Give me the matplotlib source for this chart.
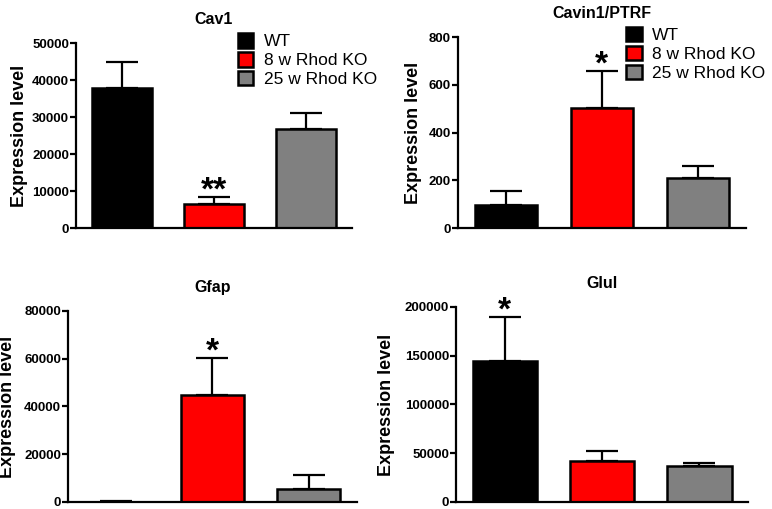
import matplotlib.pyplot as plt

plt.rcParams["font.family"] = ["Liberation Sans", "DejaVu Sans"]

groups = ["WT", "8 w Rhod KO", "25 w Rhod KO"]
colors = ["#000000", "#ff0000", "#808080"]

cav1_mean = [37800, 6500, 26700]
cav1_sem = [7100, 2000, 4400]

cavin1_mean = [98, 503, 211]
cavin1_sem = [56, 157, 50]

gfap_mean = [150, 45000, 5400]
gfap_sem = [250, 15500, 6000]

glul_mean = [145000, 42300, 37100]
glul_sem = [44500, 10200, 2800]

# significance marks above each bar
cav1_sig = ["", "**", ""]
cavin1_sig = ["", "*", ""]
gfap_sig = ["", "*", ""]
glul_sig = ["*", "", ""]

fig = plt.figure(figsize=(7.72, 5.09), dpi=100)


def panel(rect, title, means, sems, sig, ymax, step, label_x, bar_w=0.65, legend=False):
    ax = fig.add_axes(rect)
    x = range(len(means))
    bars = ax.bar(x, means, width=bar_w, color=colors, edgecolor="black",
                  linewidth=1.8, zorder=2, label=groups)
    ax.errorbar(x, means, yerr=[[0] * len(sems), sems], fmt="none",
                ecolor="black", elinewidth=1.6, capsize=11.5, capthick=1.6,
                zorder=1)
    for xi, m, s, txt in zip(x, means, sems, sig):
        if txt:
            ax.annotate(txt, (xi, m + s), xytext=(0, -7),
                        textcoords="offset points", ha="center", va="bottom",
                        fontsize=24, fontweight="bold")
    ax.set_xlim(-0.5, 2.5)
    ax.set_ylim(0, ymax)
    ax.set_yticks(range(0, ymax + 1, step))
    ax.set_xticks([])
    for side in ["top", "right"]:
        ax.spines[side].set_visible(False)
    for side in ["left", "bottom"]:
        ax.spines[side].set_linewidth(1.6)
    ax.tick_params(axis="y", length=4, width=1.6, labelsize=9.5, pad=1)
    for t in ax.get_yticklabels():
        t.set_fontweight("bold")
    ax.set_ylabel("Expression level", fontsize=13, fontweight="bold")
    ax.yaxis.set_label_coords(label_x, 0.5)
    ax.set_title(title, fontsize=11.5, fontweight="bold", pad=14)
    if legend:
        ax.legend(bars, groups, loc="upper left", bbox_to_anchor=(0.56, 1.09),
                  frameon=False, fontsize=12.5, handlelength=0.9,
                  handleheight=0.9, handletextpad=0.6, labelspacing=0.15,
                  borderaxespad=0)
    return ax


panel([0.0984, 0.552, 0.3576, 0.3635], "Cav1", cav1_mean, cav1_sem, cav1_sig,
      50000, 10000, -0.174, legend=True)
panel([0.593, 0.552, 0.373, 0.375], "Cavin1/PTRF", cavin1_mean, cavin1_sem,
      cavin1_sig, 800, 200, -0.125, legend=True)
panel([0.088, 0.0138, 0.3744, 0.3752], "Gfap", gfap_mean, gfap_sem, gfap_sig,
      80000, 20000, -0.18)
panel([0.5907, 0.0138, 0.3783, 0.3831], "Glul", glul_mean, glul_sem, glul_sig,
      200000, 50000, -0.209, bar_w=0.66)

fig.savefig("out.png", dpi=100)
